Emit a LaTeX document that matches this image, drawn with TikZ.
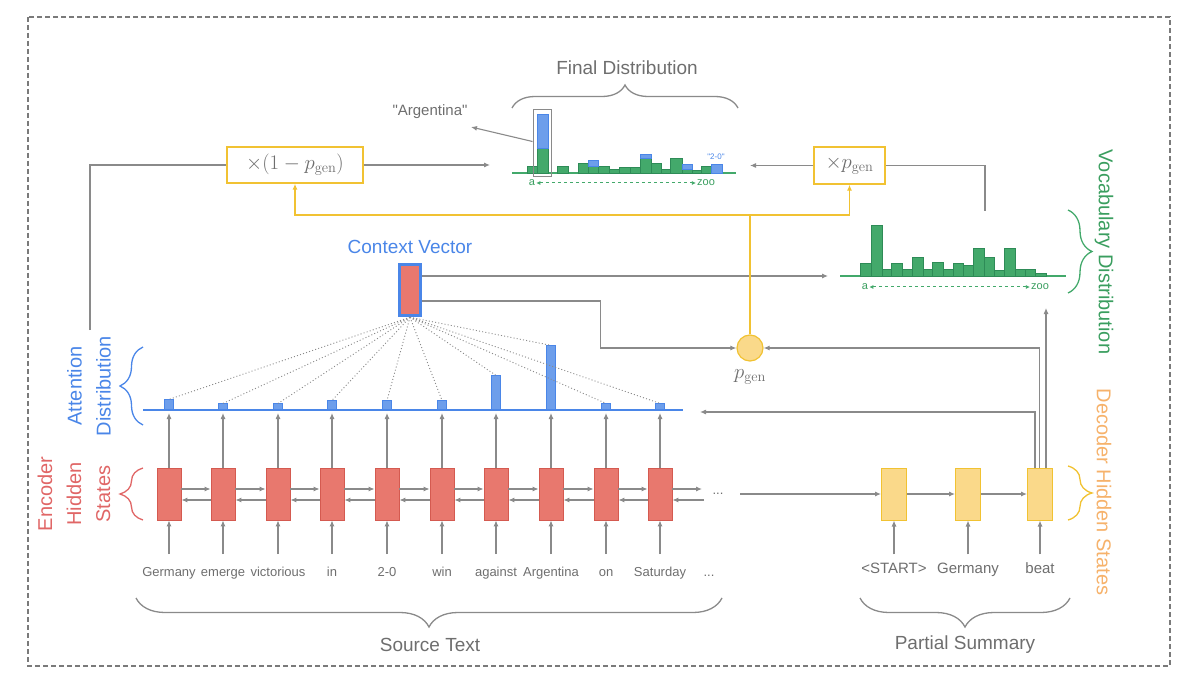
\documentclass[tikz,border=0pt]{standalone}
\usepackage[no-math]{fontspec}
\setmainfont{Liberation Sans}[Ligatures=TeXOff]
\usetikzlibrary{arrows.meta,decorations.pathreplacing,calc}
\definecolor{gl}{HTML}{8A8A8A}
\definecolor{gborder}{HTML}{7A7A7A}
\definecolor{gtext}{HTML}{6E6E6E}
\definecolor{encred}{HTML}{E8786E}
\definecolor{encredd}{HTML}{D45A50}
\definecolor{blu}{HTML}{6D9EEB}
\definecolor{blud}{HTML}{4A86E8}
\definecolor{grn}{HTML}{43A96B}
\definecolor{grnd}{HTML}{2E8B57}
\definecolor{yel}{HTML}{FAD98A}
\definecolor{yeld}{HTML}{F1C232}
\definecolor{orgtext}{HTML}{F6B26B}
\definecolor{redtext}{HTML}{E06666}
\definecolor{grntext}{HTML}{3A9E5F}
\tikzset{
  gline/.style={draw=gl, line width=1.1pt},
  garr/.style={gline, -{Latex[length=6pt,width=5pt]}},
  oline/.style={draw=yeld, line width=1.4pt},
  oarr/.style={oline, -{Latex[length=6pt,width=5pt]}},
  enc/.style={draw=encredd, fill=encred, minimum width=24pt, minimum height=52pt, inner sep=0pt, line width=0.8pt},
  dec/.style={draw=yeld, fill=yel, minimum width=25pt, minimum height=52pt, inner sep=0pt, line width=1pt},
  word/.style={text=gtext, font=\fontsize{13}{15}\selectfont, text height=9.5pt, text depth=3pt},
  dword/.style={text=gtext, font=\fontsize{15}{17}\selectfont, text height=11pt, text depth=3pt},
  att/.style={draw=blud, fill=blu, minimum width=9pt, inner sep=0pt, anchor=south, line width=0.6pt},
  brc/.style={decorate, decoration={brace, amplitude=#1}, line width=1.3pt},
  brc/.default=22pt,
  mbox/.style={draw=yeld, fill=white, line width=1.4pt, text=gtext, inner sep=0pt},
  title/.style={text=gtext, font=\fontsize{19}{22}\selectfont},
  side/.style={font=\fontsize{20}{29}\selectfont, align=center},
  gbar/.style={fill=grn, draw=grnd, line width=0.6pt},
  bbar/.style={fill=blu, draw=blud, line width=0.6pt},
  axlbl/.style={text=grntext, font=\fontsize{11}{12}\selectfont, inner sep=1pt},
  axarr/.style={draw=grn, dashed, line width=1pt, {Latex[length=4pt,width=4pt]}-{Latex[length=4pt,width=4pt]}}
}
\begin{document}
\begin{tikzpicture}[x=1pt,y=-1pt]
\useasboundingbox (0,0) rectangle (1192,687);
\draw[gborder, line width=1.2pt, dash pattern=on 5pt off 3pt] (28,17) rectangle (1170,666);

% ---------------- encoder ----------------
\foreach \i/\x/\w/\h in {1/169/Germany/10, 2/223/emerge/6, 3/278/victorious/6, 4/332/in/9, 5/387/2-0/9, 6/442/win/9, 7/496/against/34, 8/551/Argentina/64, 9/606/on/6, 10/660/Saturday/6}{
  \node[enc] (e\i) at (\x,494) {};
  \node[word] (w\i) at (\x,573) {\w};
  \node[att, minimum height=\h pt] (a\i) at (\x,410) {};
  \draw[garr] ([yshift=9pt]w\i.north) -- (e\i.south);
  \draw[garr] (e\i.north) -- ([yshift=-3pt]a\i.south);
}
\foreach \i [count=\j from 2] in {1,...,9}{
  \draw[garr] ([yshift=5pt]e\i.east) -- ([yshift=5pt]e\j.west);
  \draw[garr] ([yshift=-6pt]e\j.west) -- ([yshift=-6pt]e\i.east);
}
\coordinate (fe) at (702,489);
\coordinate (be) at (704,500);
\draw[garr] ([yshift=5pt]e10.east) -- (fe);
\draw[garr] (be) -- ([yshift=-6pt]e10.east);
\node[word] (dots1) at (718,491) {...};
\node[word] (dots2) at (709,573) {...};

% attention baseline
\draw[blud, line width=1.5pt] (143,410) -- (683,410);

% ---------------- context vector ----------------
\node[draw=blud, fill=encred, line width=3.5pt, minimum width=21pt, minimum height=51pt, inner sep=0pt] (cv) at (410,290) {};
\node[text=blud, font=\fontsize{19}{22}\selectfont] (cvl) at (410,247) {Context Vector};
\foreach \i in {1,...,10}{
  \draw[gl, line width=0.9pt, dash pattern=on 1pt off 2.2pt] (cv.south) -- (a\i.north);
}

% ---------------- p_gen ----------------
\node[circle, draw=yeld, fill=yel, line width=1.2pt, minimum size=26pt, inner sep=0pt] (pg) at (750,348) {};
\node[text=gtext, font=\fontsize{20}{22}\selectfont] (pgl) at (750,377) {$p_{\mathrm{gen}}$};

\coordinate (vleft) at (828,276);
\draw[garr] ([yshift=14pt]cv.east) -- (vleft);
\draw[garr] ([yshift=-11pt]cv.east) -- ++(178,0) |- (pg.west);

% ---------------- multiplier boxes ----------------
\node[mbox, minimum width=136pt, minimum height=36pt, font=\fontsize{20}{22}\selectfont] (m1) at (295,165) {$\times(1-p_{\mathrm{gen}})$};
\node[mbox, minimum width=71pt, minimum height=37pt, font=\fontsize{20}{22}\selectfont] (m2) at (849.5,165.5) {$\times p_{\mathrm{gen}}$};

\coordinate (oj) at (750,215);
\draw[oline] (pg.north) -- (oj);
\draw[oarr] (oj) -| (m1.south);
\draw[oarr] (oj) -| (m2.south);

\coordinate (attTop) at (90,330);
\draw[gline] (attTop) |- (m1.west);
\coordinate (fdL) at (490,165);
\draw[garr] (m1.east) -- (fdL);
\coordinate (fdR) at (750,165.5);
\draw[garr] (m2.west) -- (fdR);
\coordinate (vtop) at (985,211);
\draw[gline] (vtop) |- (m2.east);

% ---------------- final distribution ----------------
\node[title] (fdt) at (627,68) {Final Distribution};
\draw[gl, brc=23pt] (512,108) -- (738,108);
\draw[grn, line width=1.5pt] (512,173) -- (736,173);
\foreach \a/\b/\t in {527/537/166, 537/548/148, 557/568/166, 578/588/163, 588/598/166, 598/609/166, 609/619/169, 619/630/167, 630/640/167, 640/651/158, 651/661/163, 661/670/169, 670/682/158, 682/692/169, 692/701/170, 701/711/166}{
  \filldraw[gbar] (\a,173) rectangle (\b,\t);
}
\foreach \a/\b/\t/\u in {537/548/148/114, 588/598/166/160, 640/651/158/154, 682/692/169/164, 711/722/173/164}{
  \filldraw[bbar] (\a,\t) rectangle (\b,\u);
}
\node[draw=gl, line width=1pt, minimum width=18pt, minimum height=67pt, inner sep=0pt] (argbox) at (542,143.5) {};
\node[text=gtext, font=\fontsize{15}{17}\selectfont] (argl) at (430,112) {"Argentina"};
\coordinate (argtip) at (471,127);
\draw[garr] ([yshift=2pt]argbox.west) -- (argtip);
\node[text=blud, font=\fontsize{8}{9}\selectfont, inner sep=0pt] (l20) at (716,157) {"2-0"};
\node[axlbl] (fa) at (532,183) {a};
\node[axlbl] (fz) at (706,183) {zoo};
\draw[axarr] (fa.east) -- (fz.west);

% ---------------- vocabulary distribution ----------------
\draw[grn, line width=1.5pt] (840,276) -- (1066,276);
\foreach \a/\b/\t in {860/871/263, 871/882/225, 882/891/269, 891/902/263, 902/912/269, 912/923/257, 923/932/269, 932/943/262, 943/953/269, 953/963/263, 963/973/265, 973/984/248, 984/994/257, 994/1004/270, 1004/1015/248, 1015/1025/269, 1025/1035/269, 1035/1046/273}{
  \filldraw[gbar] (\a,276) rectangle (\b,\t);
}
\node[axlbl] (va) at (865,287) {a};
\node[axlbl] (vz) at (1040,287) {zoo};
\draw[axarr] (va.east) -- (vz.west);
\draw[grn, brc=24pt] (1068,210) -- (1068,293);
\node[side, rotate=-90, text=grntext] (vlab) at (1104,252) {Vocabulary Distribution};

% ---------------- decoder ----------------
\node[dec] (d1) at (894,494) {};
\node[dec] (d2) at (968,494) {};
\node[dec] (d3) at (1040,494) {};
\node[dword] (dw1) at (894,569) {<START>};
\node[dword] (dw2) at (968,569) {Germany};
\node[dword] (dw3) at (1040,569) {beat};
\draw[garr] ([yshift=4pt]dw1.north) -- (d1.south);
\draw[garr] ([yshift=4pt]dw2.north) -- (d2.south);
\draw[garr] ([yshift=4pt]dw3.north) -- (d3.south);
\coordinate (ds) at (740,494);
\draw[garr] (ds) -- (d1.west);
\draw[garr] (d1.east) -- (d2.west);
\draw[garr] (d2.east) -- (d3.west);
\coordinate (attR) at (700,412);
\draw[garr] ([xshift=-5pt]d3.north) |- (attR);
\draw[garr] ([xshift=-0.5pt]d3.north) |- (pg.east);
\coordinate (vbot) at (1046,308);
\draw[garr] ([xshift=6pt]d3.north) -- (vbot);
\draw[yeld, brc=24pt] (1068,466) -- (1068,520);
\node[side, rotate=-90, text=orgtext] (dlab) at (1104,492) {Decoder Hidden States};

% ---------------- left labels ----------------
\draw[blud, brc=23pt] (143,425) -- (143,347);
\node[side, rotate=90, text=blud] (alab) at (89,386) {Attention\\Distribution};
\draw[redtext, brc=23pt] (143,520) -- (143,468);
\node[side, rotate=90, text=redtext] (elab) at (74,494) {Encoder\\Hidden\\States};

% ---------------- bottom braces ----------------
\draw[gl, brc=29pt] (722,598) -- (136,598);
\node[title] (src) at (430,645) {Source Text};
\draw[gl, brc=29pt] (1070,598) -- (860,598);
\node[title] (ps) at (965,645) {Partial Summary};
\end{tikzpicture}
\end{document}
